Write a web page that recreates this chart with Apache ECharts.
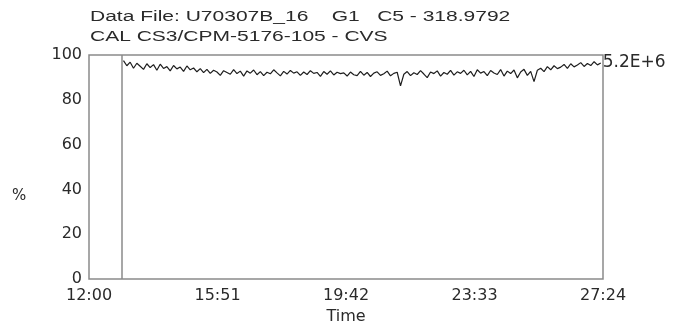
<!DOCTYPE html>
<html>
<head>
<meta charset="utf-8">
<script src="https://cdn.jsdelivr.net/npm/echarts@6/dist/echarts.min.js"></script>
<style>html,body{margin:0;padding:0;background:#fff}#c{width:688px;height:330px}</style>
</head>
<body>
<div id="c"></div>
<script>
// ---- data ----
const titleLine1 = 'Data File: U70307B_16    G1   C5 - 318.9792';
const titleLine2 = 'CAL CS3/CPM-5176-105 - CVS';
const yAxisLabel = '%';
const xAxisLabel = 'Time';
const endText = '5.2E+6';
const xTickLabels = ['12:00', '15:51', '19:42', '23:33', '27:24'];
const xTickStepMin = 231;          // minutes between x ticks
const xSpanMin = 924;              // 12:00 -> 27:24
const yTicks = [0, 20, 40, 60, 80, 100];
const startMarkMin = 59;           // vertical marker (minutes after 12:00)
const sampleStartMin = 62;         // first sample (minutes after 12:00)
const sampleStepMin = 6;           // sampling interval (minutes)
const percentValues = [
  97.5, 95.2, 96.8, 94.1, 96.3, 95.0, 93.6, 96.1, 94.4, 95.7, 93.2, 95.9, 94.0, 94.8, 92.9, 95.3, 93.8, 94.6, 92.7, 95.1, 93.4, 94.2, 92.5, 93.9,
  92.1, 93.6, 91.8, 93.2, 92.4, 90.9, 93.0, 92.2, 91.4, 93.5, 91.7, 92.8, 90.6, 92.9, 91.9, 93.3, 91.2, 92.6, 90.8, 92.3,
  91.6, 93.4, 92.0, 90.7, 92.7, 91.5, 93.1, 91.9, 92.5, 90.9, 92.4, 91.3, 93.0, 91.8, 92.2, 90.5, 92.6, 91.4, 92.9, 91.1, 92.3, 91.7,
  92.0, 90.6, 92.4, 91.2, 90.8, 92.7, 91.0, 92.2, 90.4, 91.9, 92.5, 90.9, 91.6, 92.8, 90.7, 91.8, 92.3, 86.2, 91.4, 92.6,
  90.8, 92.1, 91.3, 93.0, 91.5, 89.9, 92.4, 91.7, 92.9, 90.6, 92.2, 91.4, 93.1, 91.0, 92.5,
  91.8, 93.2, 91.1, 92.7, 90.4, 93.4, 91.9, 92.6, 90.8, 93.1, 92.0, 91.3, 93.5, 90.6, 92.8, 91.7, 93.3, 89.8, 92.4, 93.6, 90.9, 92.7, 88.1,
  93.2, 94.1, 92.6, 94.8, 93.4, 95.2, 93.9, 94.6, 95.8, 94.0, 96.1, 94.7, 95.5, 96.6, 94.9, 96.2, 95.3, 97.0, 95.6, 96.4
];

const seriesData = percentValues.map((v, i) => [sampleStartMin + i * sampleStepMin, v]);

const textColor = '#2a2a2a';
const axisFont = 'DejaVu Sans';

const chart = echarts.init(document.getElementById('c'), null, { renderer: 'canvas' });
chart.setOption({
  animation: false,
  backgroundColor: '#fff',
  grid: { left: 89, right: 85, top: 55, bottom: 38, show: true, borderColor: '#8a8a8a', borderWidth: 1.5, backgroundColor: 'transparent' },
  graphic: [
    { type: 'text', x: 90, y: 17, scaleX: 1.5, style: { text: titleLine1, x: 0, y: 0, fill: textColor, font: '14px "Liberation Sans", Arial, sans-serif', verticalAlign: 'middle' } },
    { type: 'text', x: 90, y: 37, scaleX: 1.5, style: { text: titleLine2, x: 0, y: 0, fill: textColor, font: '14px "Liberation Sans", Arial, sans-serif', verticalAlign: 'middle' } },
    { type: 'text', x: 12, y: 196, style: { text: yAxisLabel, x: 0, y: 0, fill: textColor, font: '15px "DejaVu Sans", sans-serif', verticalAlign: 'middle' } }
  ],
  xAxis: {
    type: 'value', min: 0, max: xSpanMin, interval: xTickStepMin,
    name: xAxisLabel, nameLocation: 'middle', nameGap: 30,
    nameTextStyle: { color: textColor, fontFamily: axisFont, fontSize: 16 },
    axisLine: { show: false }, axisTick: { show: false }, splitLine: { show: false },
    axisLabel: {
      color: textColor, fontFamily: axisFont, fontSize: 16, margin: 9,
      formatter: (v) => xTickLabels[Math.round(v / xTickStepMin)] || ''
    }
  },
  yAxis: {
    type: 'value', min: yTicks[0], max: yTicks[yTicks.length - 1], interval: yTicks[1] - yTicks[0],
    axisLine: { show: false }, axisTick: { show: false }, splitLine: { show: false },
    axisLabel: { color: textColor, fontFamily: axisFont, fontSize: 16, margin: 7 }
  },
  series: [{
    type: 'line',
    data: seriesData,
    showSymbol: false,
    lineStyle: { color: '#1e1e1e', width: 1.2 },
    endLabel: { show: true, formatter: endText, color: textColor, fontFamily: axisFont, fontSize: 17, distance: 2 },
    markLine: {
      silent: true, symbol: 'none', label: { show: false },
      lineStyle: { color: '#8a8a8a', width: 1.5, type: 'solid' },
      data: [{ xAxis: startMarkMin }]
    }
  }]
});
</script>
</body>
</html>
